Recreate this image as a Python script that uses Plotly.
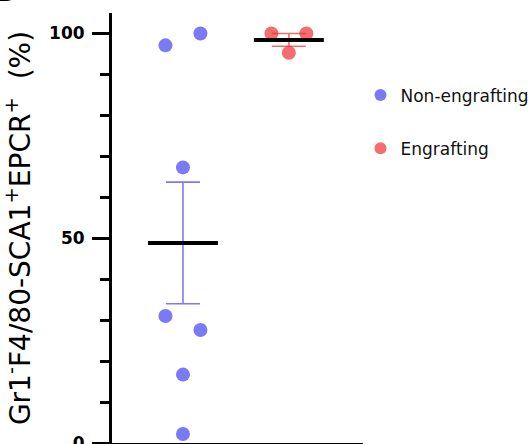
import numpy as np
import plotly.graph_objects as go

# ---- data ----
groups = ["Non-engrafting", "Engrafting"]
non_engrafting = [97.1, 100.0, 67.3, 31.0, 27.6, 16.7, 2.2]
engrafting = [100.0, 100.0, 95.3]
jitter_non = [-0.165, 0.165, 0.0, -0.165, 0.165, 0.0, 0.0]
jitter_eng = [-0.165, 0.165, 0.0]
y_ticks = [0, 50, 100]
y_title = "Gr1<sup>-</sup>F4/80-SCA1<sup>+</sup>EPCR<sup>+</sup>  (%)"

FONT = "DejaVu Sans, Liberation Sans, Arial, sans-serif"
colors = ["rgba(70,70,240,0.72)", "rgba(240,40,40,0.68)"]
series = [non_engrafting, engrafting]
jitters = [jitter_non, jitter_eng]

fig = go.Figure()

# points
for i, (name, vals, jit, col) in enumerate(zip(groups, series, jitters, colors)):
    fig.add_trace(go.Scatter(
        x=[i + j for j in jit], y=vals, mode="markers", name=name,
        legendgroup=name,
        marker=dict(size=14, color=col, line=dict(width=0)),
        cliponaxis=False,
    ))

# error bars (mean +/- SEM)
for i, (vals, col) in enumerate(zip(series, colors)):
    arr = np.array(vals)
    mean = arr.mean()
    sem = arr.std(ddof=1) / np.sqrt(len(arr))
    fig.add_trace(go.Scatter(
        x=[i], y=[mean], mode="markers", showlegend=False, hoverinfo="skip",
        marker=dict(size=1, opacity=0),
        error_y=dict(type="data", array=[sem], color=col, thickness=1.6, width=17),
    ))

# mean lines
for i, vals in enumerate(series):
    mean = float(np.mean(vals))
    fig.add_trace(go.Scatter(
        x=[i - 0.33, i + 0.33], y=[mean, mean], mode="lines", showlegend=False,
        hoverinfo="skip", line=dict(color="black", width=4),
    ))

fig.update_layout(
    width=529, height=444,
    margin=dict(l=112, r=166, t=13, b=1, autoexpand=False),
    paper_bgcolor="white", plot_bgcolor="white",
    font=dict(family=FONT, color="black"),
    showlegend=True,
    legend=dict(x=0.99, y=0.85, xanchor="left", yanchor="top",
                font=dict(size=17, color="#111", family=FONT), tracegroupgap=28,
                itemsizing="constant", bgcolor="rgba(0,0,0,0)"),
    annotations=[dict(text="<b>B</b>", xref="paper", yref="paper",
                      x=-0.47, y=1.009, xanchor="left", yanchor="bottom",
                      showarrow=False, font=dict(size=26, color="black", family=FONT))],
)
fig.update_xaxes(range=[-0.67, 1.70], showline=True, linecolor="black", linewidth=3,
                 showticklabels=False, ticks="", showgrid=False, zeroline=False,
                 automargin=False)
fig.update_yaxes(range=[0, 105], showline=True, linecolor="black", linewidth=3,
                 tickvals=y_ticks, ticktext=[f"<b>{t}</b>" for t in y_ticks],
                 ticks="outside", ticklen=17, tickwidth=3,
                 tickcolor="black", ticklabeloverflow="allow",
                 tickfont=dict(size=17, family=FONT),
                 ticklabelstandoff=4, automargin=False,
                 minor=dict(dtick=10, tick0=0, ticks="outside", ticklen=9,
                            tickwidth=3, tickcolor="black", showgrid=False),
                 showgrid=False, zeroline=False,
                 title=dict(text=y_title, standoff=12,
                            font=dict(size=28, family=FONT)))

fig.write_html("out.html")
